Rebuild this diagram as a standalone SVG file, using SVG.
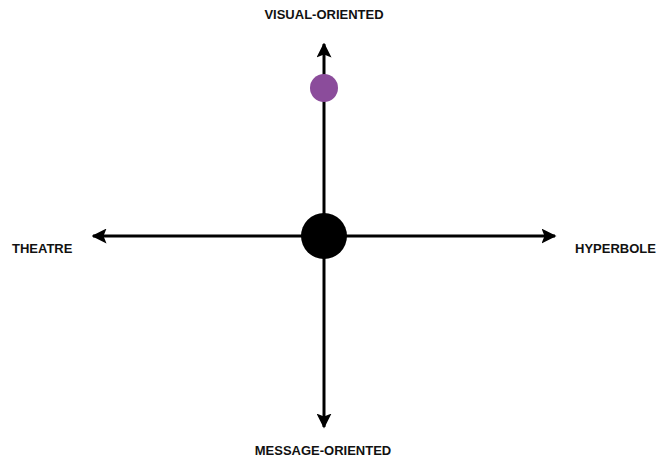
<svg xmlns="http://www.w3.org/2000/svg" width="659" height="461" viewBox="0 0 659 461">
<style>
.ax{stroke:#000;stroke-width:3;fill:none}
.lbl{font-family:"Liberation Sans",Arial,sans-serif;font-weight:bold;font-size:13px;fill:#111}
</style>
<defs>
<marker id="ah" viewBox="0 0 10 10" refX="9" refY="5" markerWidth="5" markerHeight="5" markerUnits="strokeWidth" orient="auto">
<path d="M0,0 L10,5 L0,10 L2,5 Z" fill="#000"/>
</marker>
</defs>
<rect width="659" height="461" fill="#fff"/>
<g id="connectors">
<line class="ax" x1="324" y1="236" x2="324" y2="44" marker-end="url(#ah)"/>
<line class="ax" x1="324" y1="236" x2="324" y2="427" marker-end="url(#ah)"/>
<line class="ax" x1="324" y1="236" x2="93" y2="236" marker-end="url(#ah)"/>
<line class="ax" x1="324" y1="236" x2="555" y2="236" marker-end="url(#ah)"/>
</g>
<g id="center"><circle cx="324" cy="236" r="23" fill="#000"/></g>
<g id="point"><circle cx="324" cy="88" r="14" fill="#8b4c9b"/></g>
<g id="visual"><text class="lbl" x="324" y="19" text-anchor="middle">VISUAL-ORIENTED</text></g>
<g id="message"><text class="lbl" x="323" y="455" text-anchor="middle">MESSAGE-ORIENTED</text></g>
<g id="theatre"><text class="lbl" x="12" y="253">THEATRE</text></g>
<g id="hyperbole"><text class="lbl" x="575" y="253">HYPERBOLE</text></g>
</svg>
